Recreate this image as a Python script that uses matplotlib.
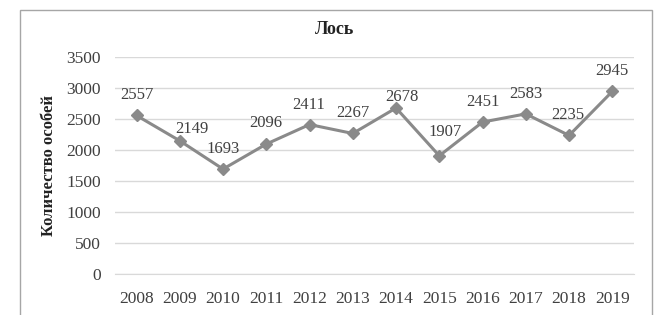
import matplotlib
matplotlib.use("Agg")
import matplotlib.pyplot as plt
from matplotlib.patches import Rectangle

plt.rcParams.update({
    "font.family": ["Liberation Serif", "DejaVu Serif"],
    "font.size": 12,
})

# данные
years = ["2008", "2009", "2010", "2011", "2012", "2013",
         "2014", "2015", "2016", "2017", "2018", "2019"]
counts = [2557, 2149, 1693, 2096, 2411, 2267, 2678, 1907, 2451, 2583, 2235, 2945]
yticks = [0, 500, 1000, 1500, 2000, 2500, 3000, 3500]

# смещения подписей (в пунктах)
label_offsets = [(0, 14.4), (8.6, 8.6), (0, 14.4), (0, 15), (-1, 14), (0, 14.4),
                 (4.3, 8), (4.3, 17), (0, 14.4), (0, 14), (-1, 14.4), (0, 14.4)]

LINE = "#8a8a8a"
TXT = "#404040"

fig = plt.figure(figsize=(6.68, 3.15), dpi=100)
ax = fig.add_axes([0.172, 0.13, 0.777, 0.689])

x = range(len(years))
ax.plot(x, counts, color=LINE, lw=2.2, marker="D", ms=6, zorder=3)
for xi, v, (dx, dy) in zip(x, counts, label_offsets):
    ax.annotate(str(v), (xi, v), xytext=(dx, dy), textcoords="offset points",
                ha="center", va="center", fontsize=12, color=TXT)

ax.set_xlim(-0.5, len(years) - 0.5)
ax.set_ylim(0, 3500)
ax.set_yticks(yticks)
ax.set_xticks(list(x))
ax.set_xticklabels(years)
ax.tick_params(length=0, colors=TXT, labelsize=12.5)
ax.tick_params(axis="x", pad=12)
ax.tick_params(axis="y", pad=10)
ax.grid(axis="y", color="#d9d9d9", lw=1)
ax.set_axisbelow(True)
for s in ["top", "right", "left"]:
    ax.spines[s].set_visible(False)
ax.spines["bottom"].set_color("#d9d9d9")

ax.set_ylabel("Количество особей", fontweight="bold", fontsize=12, color="#222222", labelpad=7)
fig.text(335 / 668, 1 - 30 / 315, "Лось", ha="center", va="center", fontweight="bold", fontsize=13, color="#222222")

# рамка диаграммы
fig.patches.append(Rectangle((20 / 668, -0.05), 632 / 668, 1 - 10 / 315 + 0.05,
                             transform=fig.transFigure, fill=False,
                             edgecolor="#a6a6a6", lw=1))

fig.savefig("out.png", dpi=100)
